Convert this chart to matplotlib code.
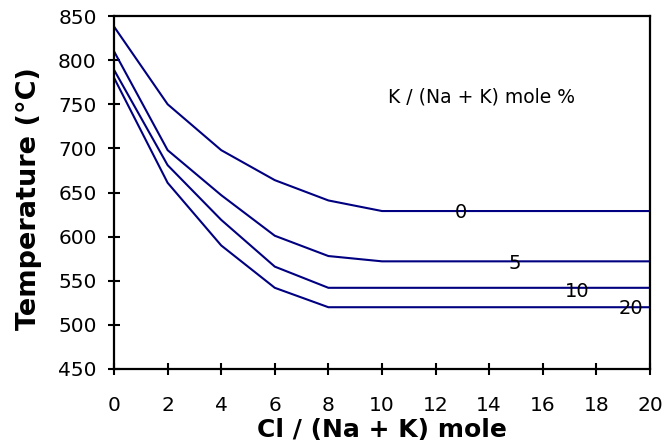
import numpy as np
import matplotlib
matplotlib.use('Agg')
import matplotlib.pyplot as plt

# Cl / (Na + K) mole
x = [0, 2, 4, 6, 8, 10, 12, 14, 16, 18, 20]

# temperature (C) for each K / (Na + K) mole %
t_k0 = [838, 750, 698, 664, 641, 629, 629, 629, 629, 629, 629]
t_k5 = [810, 698, 647, 601, 578, 572, 572, 572, 572, 572, 572]
t_k10 = [789, 681, 619, 566, 542, 542, 542, 542, 542, 542, 542]
t_k20 = [780, 661, 590, 542, 520, 520, 520, 520, 520, 520, 520]

curve_labels = ['0', '5', '10', '20']
label_x = [12.95, 14.95, 17.3, 19.3]
label_y = [627, 569, 538, 518]

fig = plt.figure(figsize=(6.68, 4.45), dpi=100)
ax = fig.add_axes([0.1707, 0.1708, 0.973 - 0.1707, 0.964 - 0.1708])

for t in [t_k0, t_k5, t_k10, t_k20]:
    ax.plot(x, t, color='#000080', lw=1.5)

for lab, lx, ly in zip(curve_labels, label_x, label_y):
    ax.text(lx, ly, lab, ha='center', va='center', fontsize=14)

ax.text(13.7, 758, 'K / (Na + K) mole %', ha='center', va='center', fontsize=13.5)

ax.set_xlim(0, 20)
ax.set_ylim(450, 850)
ax.set_xticks(np.arange(0, 21, 2))
ax.set_yticks(np.arange(450, 851, 50))
ax.tick_params(direction='inout', length=9, width=1.5, labelsize=14.5, pad=8)
ax.tick_params(axis='x', pad=15)
for s in ax.spines.values():
    s.set_linewidth(1.6)

ax.set_xlabel('Cl / (Na + K) mole', fontsize=18, fontweight='bold', labelpad=2)
ax.set_ylabel('Temperature (°C)', fontsize=19.5, fontweight='bold')
ax.yaxis.set_label_coords(-0.134, 0.484)

fig.savefig('out.png', dpi=100)
